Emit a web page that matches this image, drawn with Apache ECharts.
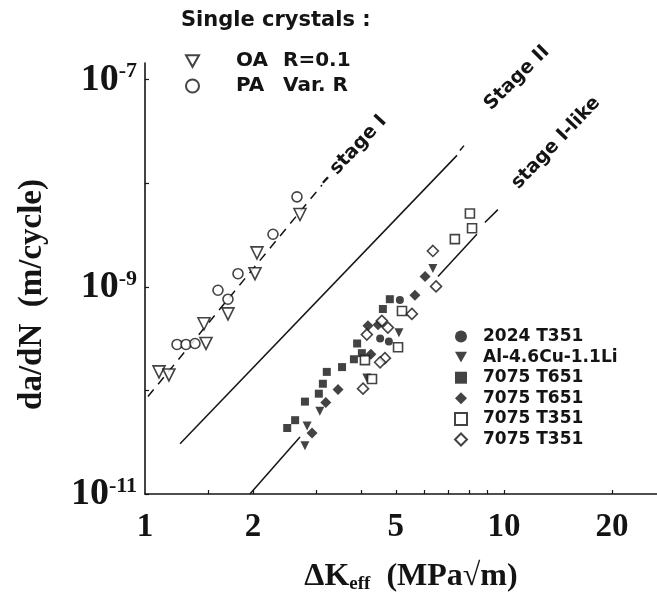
<!DOCTYPE html>
<html><head><meta charset="utf-8">
<script src="https://cdn.jsdelivr.net/npm/echarts@6/dist/echarts.min.js"></script>
<style>html,body{margin:0;padding:0;background:#fff}#c{width:657px;height:599px}</style>
</head><body><div id="c"></div>
<script>
// ---- axes (real values, log-log) ----
const xRange = [1, 26.7];
const yRange = [1e-11, 1.45e-7];
const xTickLabels = [1, 2, 5, 10, 20];
const xTicks = [1.5, 2, 3, 4, 5, 6, 7, 8, 9, 10, 20];
const yTickLabels = [1e-11, 1e-9, 1e-7];
const yTicks = [1e-11, 1e-10, 1e-9, 1e-8, 1e-7];

// ---- single crystals [ΔKeff, da/dN] ----
const scOA = [[1.094,1.51e-10],[1.166,1.41e-10],[1.46,4.40e-10],[1.479,2.84e-10],[1.703,5.48e-10],[2.025,1.34e-9],[2.051,2.13e-9],[2.703,4.99e-9]];
const scPA = [[1.228,2.78e-10],[1.301,2.78e-10],[1.378,2.84e-10],[1.597,9.27e-10],[1.703,7.60e-10],[1.816,1.34e-9],[2.273,3.22e-9],[2.651,7.40e-9]];

// ---- polycrystals ----
const p2024T351 = [[5.13,7.45e-10],[4.52,3.17e-10],[4.78,2.97e-10]];
const pAlCuLi = [[6.34,1.50e-9],[5.10,3.61e-10],[4.15,1.32e-10],[3.07,6.28e-11],[2.83,4.53e-11],[2.79,2.92e-11]];
const p7075T651sq = [[4.81,7.6e-10],[4.60,6.11e-10],[3.90,2.84e-10],[4.02,2.29e-10],[3.82,2.0e-10],[3.54,1.68e-10],[3.21,1.51e-10],[3.13,1.16e-10],[3.05,9.3e-11],[2.79,7.8e-11],[2.62,5.16e-11],[2.49,4.34e-11]];
const p7075T651di = [[6.03,1.26e-9],[5.65,8.3e-10],[4.18,4.22e-10],[4.46,4.31e-10],[4.26,2.24e-10],[3.45,1.02e-10],[3.19,7.65e-11],[2.92,3.88e-11]];
const p7075T351sq = [[8.04,5.10e-9],[8.15,3.68e-9],[7.30,2.89e-9],[5.20,5.85e-10],[5.07,2.61e-10],[4.10,1.96e-10],[4.29,1.29e-10]];
const p7075T351di = [[6.34,2.22e-9],[6.47,1.01e-9],[5.54,5.48e-10],[4.57,4.70e-10],[4.75,4.04e-10],[4.15,3.46e-10],[4.66,2.05e-10],[4.52,1.87e-10],[4.05,1.04e-10]];

// ---- stage lines ----
const stageI = [[1.019,8.73e-11],[3.112,9.62e-9]];
const stageII = [[1.252,3.05e-11],[7.40,1.86e-8]];
const stageIIdash = [[7.54,2.07e-8],[7.74,2.31e-8]];
const stageIlikeA = [[1.96,1e-11],[2.703,3.56e-11]];
const stageIlikeB = [[6.55,1.26e-9],[8.41,3.22e-9]];
const stageIlikeC = [[8.85,4.19e-9],[9.62,5.57e-9]];

// ---- texts ----
const scTitle = 'Single crystals :';
const scLabels = [['OA', 'R=0.1'], ['PA', 'Var. R']];
const polyLabels = ['2024 T351', 'Al-4.6Cu-1.1Li', '7075 T651', '7075 T651', '7075 T351', '7075 T351'];
const stageLabels = ['– stage I', 'Stage II', 'stage I-like'];
const xName = ['ΔK', 'eff', '  (MPa√m)'];
const yName = 'da/dN  (m/cycle)';

const L = Math.log10;
const pts = p => p.map(d => [L(d[0]), L(d[1])]);
const ink = '#141414';
const serif = "'Liberation Serif','Times New Roman',serif";
const sans = "'DejaVu Sans',sans-serif";
const downTri = 'path://M0,0L20,0L10,18Z';

function scatter(name, data, symbol, size, filled) {
  return { type: 'scatter', name, data: pts(data), symbol, symbolSize: size, z: 5,
    itemStyle: filled ? { color: ink } : { color: '#fff', borderColor: ink, borderWidth: 1.6 },
    emphasis: { disabled: true } };
}
function line(data, dashed) {
  return { type: 'line', data: pts(data), symbol: 'none', silent: true, z: 2,
    lineStyle: { color: ink, width: 1.5, type: dashed ? [9, 7] : 'solid' } };
}

const polyData = [p2024T351, pAlCuLi, p7075T651sq, p7075T651di, p7075T351sq, p7075T351di];
const polySym = [['circle', 8, true], [downTri, 9, true], ['rect', 8, true], ['diamond', 11, true], ['rect', 9, false], ['diamond', 11, false]];
const polyNames = polyLabels.map((l, i) => l + '#' + i);

const series = [
  line(stageI, true), line(stageII, false), line(stageIIdash, false),
  line(stageIlikeA, false), line(stageIlikeB, false), line(stageIlikeC, false),
  scatter('OA', scOA, downTri, 12, false),
  scatter('PA', scPA, 'circle', 10, false)
];
polyData.forEach((d, i) => series.push(scatter(polyNames[i], d, polySym[i][0], polySym[i][1], polySym[i][2])));

const legText = { fontFamily: sans, fontWeight: 'bold', color: ink };
const chart = echarts.init(document.getElementById('c'), null, { renderer: 'canvas' });
chart.setOption({
  animation: false,
  backgroundColor: '#fff',
  grid: { left: 145, right: 0, top: 63, bottom: 98, containLabel: false },
  title: { text: scTitle, left: 176, top: 5, textStyle: Object.assign({ fontSize: 21 }, legText) },
  legend: [
    { data: ['OA', 'PA'], orient: 'vertical', left: 180, top: 46, itemWidth: 13, itemHeight: 13, itemGap: 5,
      selectedMode: false, symbolKeepAspect: true,
      formatter: n => { const l = scLabels[n === 'OA' ? 0 : 1]; return '{a|' + l[0] + '}{b|' + l[1] + '}'; },
      textStyle: Object.assign({ fontSize: 20, padding: [0, 0, 0, 32],
        rich: { a: Object.assign({ width: 47, fontSize: 20 }, legText), b: Object.assign({ fontSize: 20 }, legText) } }, legText) },
    { data: polyNames, orient: 'vertical', left: 449, top: 323, itemWidth: 12, itemHeight: 12, itemGap: 3.6,
      selectedMode: false, symbolKeepAspect: true,
      formatter: n => n.split('#')[0],
      textStyle: Object.assign({ fontSize: 17, padding: [0, 0, 0, 11] }, legText) }
  ],
  xAxis: {
    type: 'value', min: L(xRange[0]), max: L(xRange[1]),
    name: '{a|' + xName[0] + '}{s|' + xName[1] + '}{a|' + xName[2] + '}',
    nameLocation: 'middle', nameGap: 66,
    nameTextStyle: { padding: [0, 0, 0, 20], rich: {
      a: { fontFamily: serif, fontWeight: 'bold', fontSize: 32, color: ink, lineHeight: 34 },
      s: { fontFamily: serif, fontWeight: 'bold', fontSize: 19, color: ink, verticalAlign: 'bottom', lineHeight: 16 } } },
    axisLine: { show: true, onZero: false, lineStyle: { color: ink, width: 1.6 } },
    axisTick: { show: true, inside: true, length: 4, customValues: xTicks.map(L), lineStyle: { color: ink, width: 1.2 } },
    axisLabel: { customValues: xTickLabels.map(L), margin: 17,
      formatter: v => String(Math.round(Math.pow(10, v))),
      fontFamily: serif, fontWeight: 'bold', fontSize: 33, color: ink },
    splitLine: { show: false }
  },
  yAxis: {
    type: 'value', min: L(yRange[0]), max: L(yRange[1]),
    name: yName, nameLocation: 'middle', nameGap: 96, nameRotate: 90,
    nameTextStyle: { fontFamily: serif, fontWeight: 'bold', fontSize: 33, color: ink, padding: [0, 32, 0, 0] },
    axisLine: { show: true, onZero: false, lineStyle: { color: ink, width: 1.6 } },
    axisTick: { show: true, inside: true, length: 4, customValues: yTicks.map(L), lineStyle: { color: ink, width: 1.2 } },
    axisLabel: { customValues: yTickLabels.map(L), margin: 8,
      formatter: v => '{b|10}{s|' + Math.round(v) + '}',
      rich: {
        b: { fontFamily: serif, fontWeight: 'bold', fontSize: 38, color: ink, lineHeight: 38 },
        s: { fontFamily: serif, fontWeight: 'bold', fontSize: 22, color: ink, verticalAlign: 'top', lineHeight: 22 } } },
    splitLine: { show: false }
  },
  graphic: [
    { type: 'text', x: 353, y: 151, rotation: 0.82, style: { text: stageLabels[0], align: 'center', verticalAlign: 'middle', fontFamily: sans, fontWeight: 'bold', fontSize: 19, fill: ink } },
    { type: 'text', x: 517, y: 78, rotation: 0.78, style: { text: stageLabels[1], align: 'center', verticalAlign: 'middle', fontFamily: sans, fontWeight: 'bold', fontSize: 19, fill: ink } },
    { type: 'text', x: 556, y: 143, rotation: 0.81, style: { text: stageLabels[2], align: 'center', verticalAlign: 'middle', fontFamily: sans, fontWeight: 'bold', fontSize: 19, fill: ink } }
  ],
  series
});
</script>
</body></html>
